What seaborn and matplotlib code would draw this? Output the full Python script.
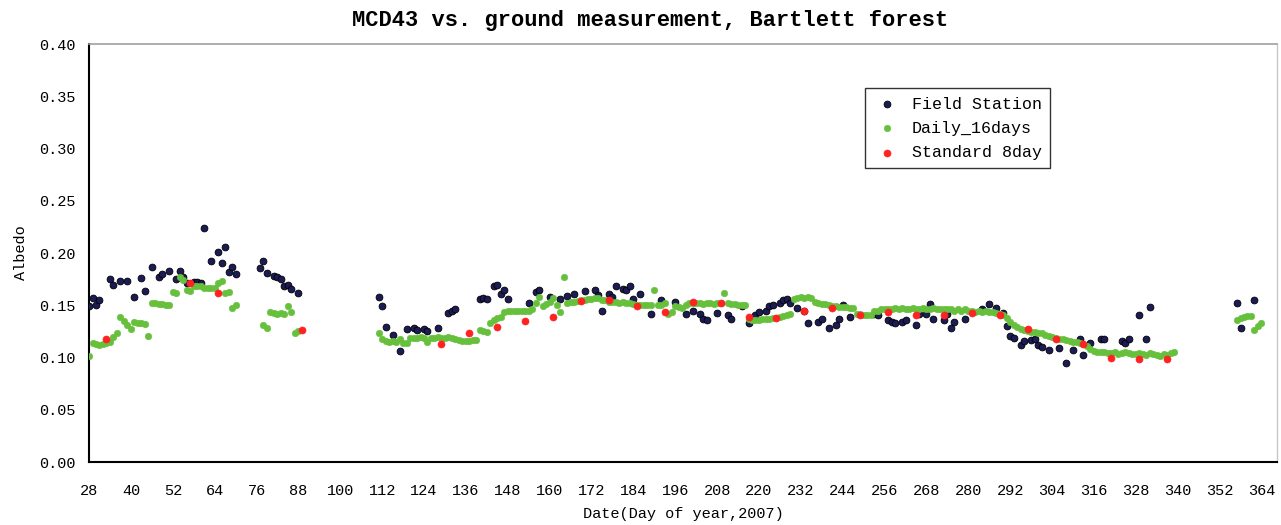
import matplotlib
matplotlib.use("Agg")
import matplotlib.pyplot as plt
import seaborn as sns
import pandas as pd

# Field Station (ground measurement)
field_days = [28, 29, 30, 31, 34, 35, 37, 39, 41, 43, 44, 46, 48, 49, 51, 53, 54, 55, 56, 58,
              59, 60, 61, 63, 65, 66, 67, 68, 69, 70,
              77, 78, 79, 81, 82, 83, 84, 85, 86, 88,
              111, 112, 113, 115, 117, 119, 121, 122, 124, 125, 128, 131, 132, 133, 140, 141, 142,
              144, 145, 146, 147, 148, 154, 156, 157, 160, 163, 165, 167, 170, 173,
              174, 175, 177, 178, 179, 181, 182, 183, 184, 186, 189, 192, 196, 199, 201, 203, 204,
              205, 208, 211, 212, 215, 217, 219, 220, 222, 223, 224, 226, 227, 228, 229, 231, 233,
              234, 237, 238, 240,
              242, 243, 244, 246, 253, 254, 257, 258, 259, 261, 262, 265, 266, 268, 269, 270, 273,
              274, 275, 276, 279, 284, 286, 288, 290, 291, 292, 293, 295, 296, 298, 299, 300, 301,
              303, 306, 308, 310, 312, 313, 315, 318, 319, 324, 325, 326, 329, 331, 332,
              357, 358, 362]
field_vals = [.149, .157, .150, .155, .175, .169, .173, .173, .158, .176, .164, .187, .177, .180,
              .183, .175, .183, .177, .171, .172, .172, .171, .224, .192, .201, .190, .206, .182,
              .187, .180,
              .186, .192, .181, .178, .177, .175, .168, .169, .166, .162,
              .158, .149, .129, .122, .106, .127, .128, .126, .127, .125, .128, .143, .145, .146,
              .156, .157, .156, .168, .169, .161, .165, .156, .152, .163, .165, .158, .156, .159,
              .161, .164, .165,
              .160, .145, .161, .158, .168, .166, .165, .168, .156, .161, .142, .155, .153, .142,
              .145, .142, .137, .136, .143, .141, .137, .149, .133, .141, .144, .145, .149, .150,
              .152, .155, .156, .152, .147, .145, .133, .134, .137, .128,
              .131, .137, .150, .139, .142, .141, .136, .134, .133, .134, .136, .131, .142, .142,
              .151, .137, .136, .142, .128, .134, .137, .146, .151, .147, .143, .130, .121, .119,
              .112, .116, .117, .118, .112, .110, .107, .109, .095, .107, .118, .102, .114, .118,
              .118, .116, .114, .118, .141, .118, .148,
              .152, .128, .155]

# Daily_16days
daily_days = (list(range(28, 71)) + list(range(78, 89)) + list(range(111, 175))
              + list(range(175, 241)) + list(range(241, 307)) + list(range(307, 340))
              + list(range(357, 365)))
daily_vals = [.101, .114, .113, .112, .113, .114, .115, .120, .123, .139, .135, .131, .127, .134,
              .133, .133, .132, .121, .152, .152, .151, .151, .150, .150, .163, .162, .177, .174,
              .165, .164, .168, .168, .168, .167, .167, .167, .167, .171, .173, .162, .163, .147,
              .150,
              .131, .128, .144, .143, .142, .143, .142, .149, .144, .123, .125,
              .123, .118, .116, .115, .116, .115, .118, .114, .114, .119, .119, .119, .120, .119,
              .115, .119, .119, .120, .119, .119, .120, .119, .118, .117, .116, .116, .116, .117,
              .117, .126, .125, .124, .133, .136, .138, .139, .144, .145, .145, .145, .145, .145,
              .145, .145, .146, .152, .158, .149, .151, .153, .157, .150, .144, .177, .152, .153,
              .153, .154, .155, .155, .156, .156, .157, .157,
              .155, .155, .153, .153, .153, .152, .153, .152, .152, .151, .150, .150, .150, .150,
              .150, .165, .150, .150, .152, .142, .144, .149, .148, .147, .150, .152, .152, .152,
              .152, .151, .152, .152, .151, .152, .152, .162, .152, .151, .151, .150, .150, .150,
              .137, .136, .136, .136, .137, .137, .137, .138, .138, .139, .140, .141, .142, .156,
              .157, .158, .157, .158, .157, .153, .152, .151, .151, .150,
              .149, .149, .148, .148, .148, .147, .147, .142, .142, .141, .141, .141, .145, .145,
              .146, .146, .146, .146, .147, .146, .147, .146, .146, .147, .146, .146, .147, .146,
              .146, .147, .146, .146, .146, .146, .146, .145, .146, .145, .146, .145, .145, .144,
              .145, .144, .145, .144, .144, .143, .142, .141, .138, .134, .131, .129, .127, .126,
              .125, .124, .124, .123, .123, .122, .121, .120, .119, .118,
              .118, .117, .116, .115, .115, .114, .113, .111, .108, .106, .105, .105, .105, .104,
              .104, .105, .103, .104, .105, .104, .103, .103, .104, .103, .102, .104, .103, .102,
              .101, .103, .102, .104, .105,
              .136, .138, .139, .140, .140, .126, .130, .133]

# Standard 8day
std_days = [33, 57, 65, 89, 129, 137, 145, 153, 161, 169, 177, 185, 193, 201, 209, 217, 225,
            233, 241, 249, 257, 265, 273, 281, 289, 297, 305, 313, 321, 329, 337]
std_vals = [.118, .171, .162, .126, .113, .123, .129, .135, .139, .154, .155, .149, .144, .153,
            .152, .139, .138, .145, .147, .141, .144, .141, .141, .143, .141, .127, .118, .113,
            .100, .099, .099]

x_ticks = list(range(28, 365, 12))
y_ticks = [0.0, 0.05, 0.10, 0.15, 0.20, 0.25, 0.30, 0.35, 0.40]

df_field = pd.DataFrame({"day": field_days, "albedo": field_vals})
df_daily = pd.DataFrame({"day": daily_days, "albedo": daily_vals})
df_std = pd.DataFrame({"day": std_days, "albedo": std_vals})

sns.set_style("white")
plt.rcParams["font.family"] = ["Liberation Mono", "DejaVu Sans Mono"]
plt.rcParams["text.color"] = "black"
plt.rcParams["axes.labelcolor"] = "black"
plt.rcParams["xtick.color"] = "black"
plt.rcParams["ytick.color"] = "black"

fig = plt.figure(figsize=(12.81, 5.25), dpi=100)
ax = fig.add_axes([0.0695, 0.12, 0.9275, 0.796])

sns.scatterplot(data=df_field, x="day", y="albedo", ax=ax, color="#1b1b55",
                edgecolor="#000000", linewidth=0.6, s=24, label="Field Station", zorder=3)
sns.scatterplot(data=df_daily, x="day", y="albedo", ax=ax, color="#66c03c",
                edgecolor="#66c03c", linewidth=0.4, s=22, label="Daily_16days", zorder=4)
sns.scatterplot(data=df_std, x="day", y="albedo", ax=ax, color="#ff2222",
                edgecolor="#ff2222", linewidth=0.4, s=26, label="Standard 8day", zorder=5)

ax.set_xlim(28, 368.5)
ax.set_ylim(0, 0.40)
ax.set_xticks(x_ticks)
ax.set_xticklabels([str(t) for t in x_ticks], fontsize=11)
ax.set_yticks(y_ticks)
ax.set_yticklabels([f"{t:.2f}" for t in y_ticks], fontsize=11)
ax.tick_params(axis="both", direction="inout", length=8, width=1.2, color="black", pad=6)
ax.tick_params(axis="x", pad=12)

for side in ["left", "bottom"]:
    ax.spines[side].set_color("black")
    ax.spines[side].set_linewidth(1.5)
ax.spines["top"].set_color("#a0a0a0")
ax.spines["top"].set_linewidth(1.2)
ax.spines["right"].set_color("#c8c8c8")
ax.spines["right"].set_linewidth(1.0)

ax.set_title("MCD43 vs. ground measurement, Bartlett forest", fontsize=15.8,
             fontweight="bold", pad=13, x=0.472, color="black")
ax.set_xlabel("Date(Day of year,2007)", fontsize=11, labelpad=6)
ax.set_ylabel("Albedo", fontsize=11, labelpad=8)

leg = ax.legend(loc="upper left", bbox_to_anchor=(0.646, 0.914), frameon=True,
                fancybox=False, edgecolor="black", fontsize=12, markerscale=1.0,
                handletextpad=0.7, borderpad=0.5, labelspacing=0.55, handlelength=1.6)
leg.get_frame().set_linewidth(1.0)

fig.savefig("out.png", dpi=100)
